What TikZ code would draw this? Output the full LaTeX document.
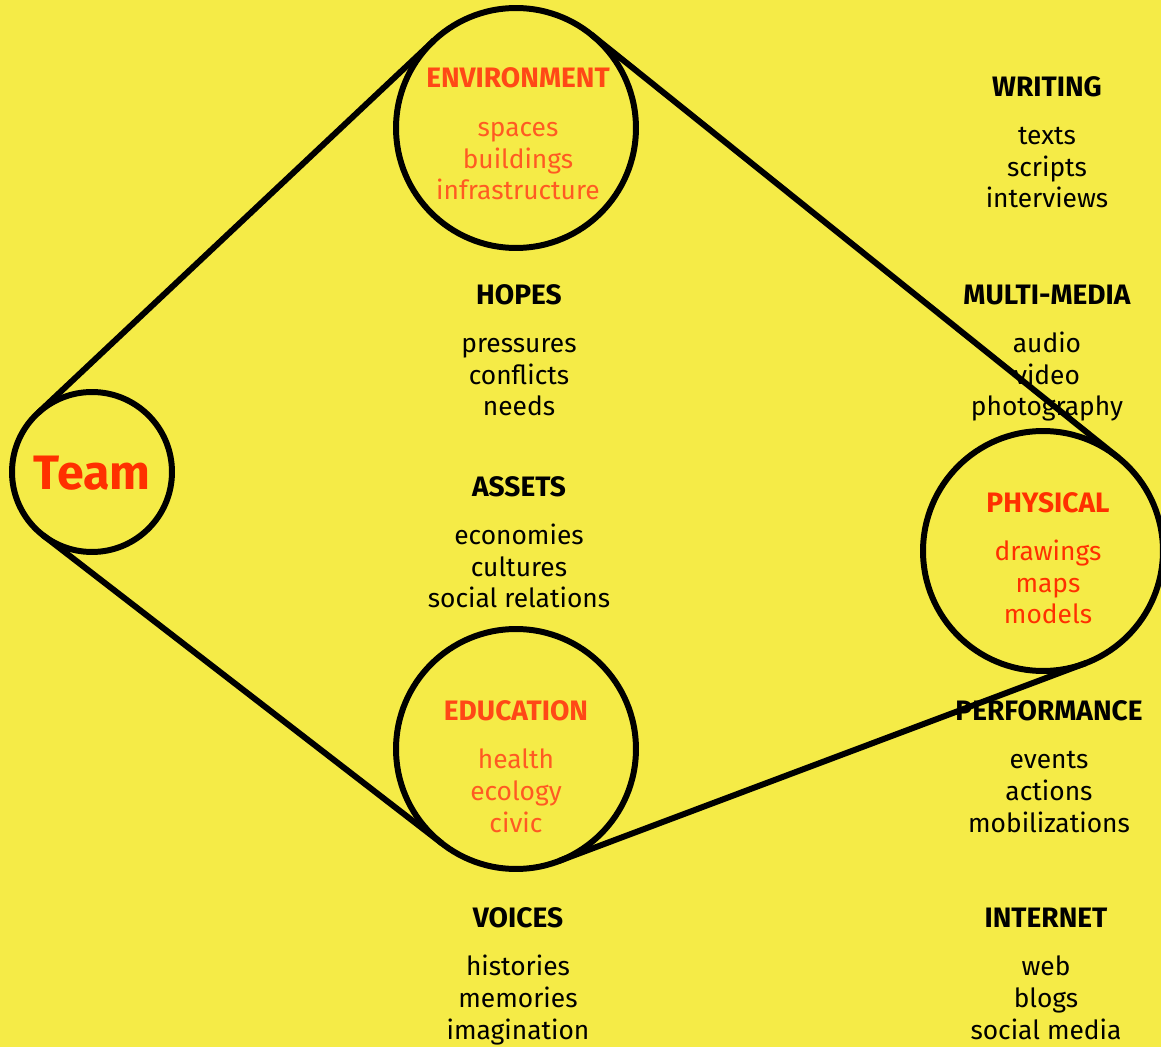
\documentclass[tikz,border=0pt]{standalone}
\usepackage{fontspec}
\setmainfont{Fira Sans}
\usepackage{xcolor}
\usepackage{tikz}
\usetikzlibrary{positioning}

\definecolor{bgyellow}{HTML}{F5EB47}
\definecolor{teamred}{HTML}{FF3000}
\definecolor{headorange}{HTML}{FF4816}
\definecolor{itemorange}{HTML}{FF5A22}

\begin{document}
\begin{tikzpicture}[x=0.02cm,y=-0.02cm,line width=3.4pt]
                \tikzset{hub/.style={circle, draw, minimum size=4.8cm, inner sep=0pt, outer sep=0pt},
                         head/.style={font=\fontsize{16}{18.1}\selectfont\bfseries, anchor=base, inner sep=0pt},
                         items/.style={font=\fontsize{15}{18.1}\selectfont, align=center, anchor=base, inner sep=0pt}}
                \fill[bgyellow] (0,0) rectangle (1161,1047);
                \useasboundingbox (0,0) rectangle (1161,1047);
                % the four circles
                \node[hub, minimum size=3.2cm] (team) at (92,472) {};
                \node[hub] (env) at (516,128) {};
                \node[hub] (edu) at (516,749) {};
                \node[hub] (phys) at (1043,551) {};
                % texts in the circles (items: base is the last line)
                \node[font=\fontsize{27.5}{32}\selectfont\bfseries, text=teamred, anchor=base] (teamtxt) at (92,490) {Team};
                \node[head, text=headorange] (envhead) at (518,88) {ENVIRONMENT};
                \node[items, text=itemorange] (envitems) at (518,200) {spaces\\buildings\\infrastructure};
                \node[head, text=headorange] (eduhead) at (516,721) {EDUCATION};
                \node[items, text=itemorange] (eduitems) at (516,832) {health\\ecology\\civic};
                \node[head, text=teamred] (physhead) at (1048,513) {PHYSICAL};
                \node[items, text=teamred] (physitems) at (1048,624) {drawings\\maps\\models};
                % texts outside
                \node[head] (hopes) at (519,305) {HOPES};
                \node[items] (hopesitems) at (519,416) {pressures\\conflicts\\needs};
                \node[head] (assets) at (519,497) {ASSETS};
                \node[items] (assetsitems) at (519,608) {economies\\cultures\\social relations};
                \node[head] (voices) at (518,928) {VOICES};
                \node[items] (voicesitems) at (518,1039) {histories\\memories\\imagination};
                \node[head] (writing) at (1047,97) {WRITING};
                \node[items] (writingitems) at (1047,208) {texts\\scripts\\interviews};
                \node[head] (media) at (1047,305) {MULTI-MEDIA};
                \node[items] (mediaitems) at (1047,416) {audio\\video\\photography};
                \node[head] (perf) at (1049,721) {PERFORMANCE};
                \node[items] (perfitems) at (1049,832) {events\\actions\\mobilizations};
                \node[head] (internet) at (1046,928) {INTERNET};
                \node[items] (internetitems) at (1046,1039) {web\\blogs\\social media};
                % the tangent lines
                \path (team.133) edge (env.133);
                \path (team.232) edge (edu.232);
                \path (env.51) edge (phys.51);
                \path (edu.291) edge (phys.291);
\end{tikzpicture}
\end{document}
